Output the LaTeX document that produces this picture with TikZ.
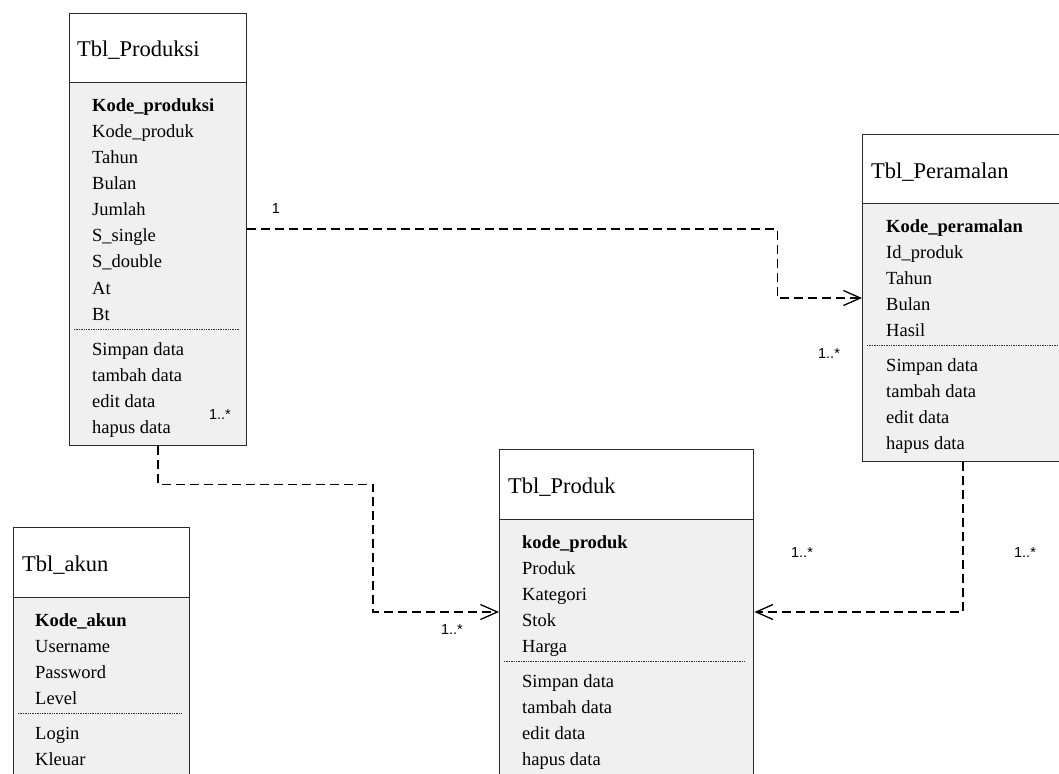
\documentclass[tikz,border=0pt]{standalone}
\usepackage{fontspec}
\setmainfont{Liberation Serif}
\newfontfamily\multfont{Liberation Sans}
\usetikzlibrary{arrows.meta,calc}
\definecolor{bodygray}{HTML}{F0F0F0}
\definecolor{edge}{HTML}{2A2A2A}
\begin{document}
\begin{tikzpicture}[x=1pt,y=-1pt,
  box/.style={draw=edge, line width=1.4pt, rectangle, inner sep=0pt, anchor=north west},
  hdrbox/.style={box, fill=white},
  bodybox/.style={box, fill=bodygray},
  ttl/.style={font=\fontsize{22.5}{24}\selectfont, inner sep=0pt, anchor=base west},
  row/.style={font=\fontsize{18.5}{20}\selectfont, inner sep=0pt, anchor=base west},
  keyrow/.style={row, font=\fontsize{18.5}{20}\selectfont\bfseries},
  sep/.style={draw=edge, line width=0.9pt, dash pattern=on 1.4pt off 1pt},
  conn/.style={draw=black, line width=1.3pt, dash pattern=on 9pt off 5pt},
  tip/.style={-{Straight Barb[length=17pt,width=15pt,line width=1.3pt]}},
  mult/.style={font=\multfont\fontsize{14.5}{15}\selectfont, inner sep=0pt}
]
\useasboundingbox (0,0) rectangle (1059,773);
\fill[white] (0,0) rectangle (1059,773);

% ---------- Tbl_Produksi ----------
\node[bodybox, minimum width=177pt, minimum height=363pt] (produksiB) at (69,82) {};
\node[hdrbox, minimum width=177pt, minimum height=69pt] (produksiH) at (69,13) {};
\node[ttl] (produksiT) at (77,57) {Tbl\_Produksi};
\node[keyrow] (pr0) at (92,111) {Kode\_produksi};
\foreach \t/\y [count=\i] in {Kode\_produk/137, Tahun/163, Bulan/189, Jumlah/215, S\_single/241, S\_double/267, At/294, Bt/320, Simpan data/355, tambah data/381, edit data/407, hapus data/433}
  \node[row] (pr\i) at (92,\y) {\t};
\draw[sep] (74,329) -- (239,329);

% ---------- Tbl_Peramalan ----------
\node[bodybox, minimum width=230pt, minimum height=258pt] (peramalanB) at (862,203) {};
\node[hdrbox, minimum width=230pt, minimum height=69pt] (peramalanH) at (862,134) {};
\node[ttl] (peramalanT) at (871,178) {Tbl\_Peramalan};
\node[keyrow] (pe0) at (886,232) {Kode\_peramalan};
\foreach \t/\y [count=\i] in {Id\_produk/258, Tahun/284, Bulan/310, Hasil/336, Simpan data/371, tambah data/397, edit data/423, hapus data/449}
  \node[row] (pe\i) at (886,\y) {\t};
\draw[sep] (867,345) -- (1059,345);

% ---------- Tbl_Produk ----------
\node[bodybox, minimum width=254pt, minimum height=280pt] (produkB) at (499,519) {};
\node[hdrbox, minimum width=254pt, minimum height=70pt] (produkH) at (499,449) {};
\node[ttl] (produkT) at (508,493) {Tbl\_Produk};
\node[keyrow] (pk0) at (522,548) {kode\_produk};
\foreach \t/\y [count=\i] in {Produk/574, Kategori/600, Stok/626, Harga/652, Simpan data/687, tambah data/713, edit data/739, hapus data/765}
  \node[row] (pk\i) at (522,\y) {\t};
\draw[sep] (504,661) -- (746,661);

% ---------- Tbl_akun ----------
\node[bodybox, minimum width=176pt, minimum height=200pt] (akunB) at (13,597) {};
\node[hdrbox, minimum width=176pt, minimum height=70pt] (akunH) at (13,527) {};
\node[ttl] (akunT) at (22,571) {Tbl\_akun};
\node[keyrow] (ak0) at (35,626) {Kode\_akun};
\foreach \t/\y [count=\i] in {Username/652, Password/678, Level/704, Login/739, Kleuar/765}
  \node[row] (ak\i) at (35,\y) {\t};
\draw[sep] (18,713) -- (182,713);

% ---------- connectors ----------
\draw[conn, tip] ($(produksiB.north east)+(0,147)$) -- ++(530,0) |- ($(peramalanB.north west)+(0,95)$);
\draw[conn, tip] ($(produksiB.south west)+(89,0)$) -- ++(0,38) -- ++(215,0) |- ($(produkB.north west)+(0,93)$);
\draw[conn, tip] ($(peramalanB.south west)+(101,0)$) |- ($(produkB.north east)+(0,93)$);

% ---------- multiplicities ----------
\node[mult] (m1) at (276,209) {1};
\node[mult] (m2) at (829,354) {1..*};
\node[mult] (m3) at (220,415) {1..*};
\node[mult] (m4) at (452,630) {1..*};
\node[mult] (m5) at (802,553) {1..*};
\node[mult] (m6) at (1025,553) {1..*};
\end{tikzpicture}
\end{document}
